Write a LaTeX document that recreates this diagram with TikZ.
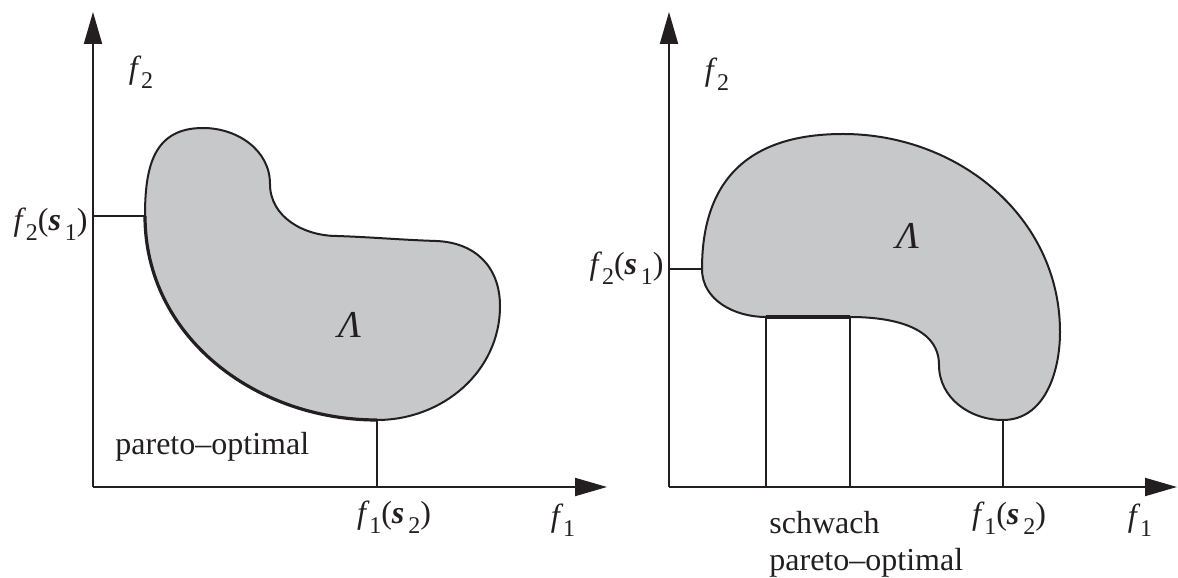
\documentclass[tikz,border=0pt]{standalone}
\usepackage{fontspec}
\setmainfont{Liberation Serif}
\usepackage{tikz}
\usetikzlibrary{positioning, arrows.meta}
\definecolor{blobgray}{RGB}{199,200,202}
\definecolor{ink}{RGB}{35,31,32}
\newcommand{\lowsub}[1]{\raisebox{-0.3em}{\fontsize{12}{13}\selectfont #1}}
\newcommand{\fax}[1]{\textit{f}\kern-0.01em\lowsub{#1}}
\newcommand{\fval}[2]{\fax{#1}(\textbf{\textit{s}}\kern0.12em\lowsub{#2})}
\tikzset{
  axis/.style={draw=ink, line width=1pt, -{Triangle[length=16pt, width=9pt]}},
  helper/.style={draw=ink, line width=1pt},
  rim/.style={draw=ink, line width=1pt},
  front/.style={draw=ink, line width=1.6pt},
  lbl/.style={font=\fontsize{16}{18.5}\selectfont, text=ink, inner sep=0pt},
  setname/.style={font=\fontsize{19}{21}\selectfont, text=ink, inner sep=0pt},
}
\begin{document}
\begin{tikzpicture}[x=0.5pt, y=0.5pt]
\useasboundingbox (0,0) rectangle (1178,578);
% left diagram
\coordinate (Lo) at (93,91);
\coordinate (Ly) at (93,566);
\coordinate (Lx) at (607,91);
\coordinate (Lj1) at (145,362);
\coordinate (Ltop) at (203,450);
\coordinate (Lnotch) at (270,394);
\coordinate (Lwaist) at (337,342);
\coordinate (Lshoulder) at (436,337);
\coordinate (Lright) at (500,272);
\coordinate (Lj2) at (377,158);
\coordinate (Lf2) at (Lo |- Lj1);
\coordinate (Lf1) at (Lj2 |- Lo);
\fill[blobgray] (Lj1) to[out=90, in=180, looseness=1.2] (Ltop) to[out=0, in=90] (Lnotch)
  to[out=-90, in=180] (Lwaist) to[out=-2, in=178] (Lshoulder) to[out=-2, in=90, looseness=1.1] (Lright)
  to[out=-90, in=0] (Lj2) to[out=180, in=-90] (Lj1) -- cycle;
\draw[rim] (Lj1) to[out=90, in=180, looseness=1.2] (Ltop) to[out=0, in=90] (Lnotch)
  to[out=-90, in=180] (Lwaist) to[out=-2, in=178] (Lshoulder) to[out=-2, in=90, looseness=1.1] (Lright)
  to[out=-90, in=0] (Lj2);
\draw[front] (Lj2) to[out=180, in=-90] (Lj1);
\draw[helper] (Lf2) -- (Lj1);
\draw[helper] (Lj2) -- (Lf1);
\draw[axis] (Lo) -- (Ly);
\draw[axis] (Lo) -- (Lx);
\node[lbl] (Lf2lbl) at (141,506) {\fax{2}};
\node[lbl, anchor=east] (Lf2val) at (88,354) {\fval{2}{1}};
\node[lbl] (Lf1val) at (394,61) {\fval{1}{2}};
\node[lbl] (Lf1lbl) at (563,58) {\fax{1}};
\node[setname] (Lset) at (350,253) {\textit{Λ}};
\node[lbl, anchor=base west] (Lpareto) at (115,123) {pareto–optimal};
% right diagram
\coordinate (Ro) at (669,91);
\coordinate (Ry) at (669,566);
\coordinate (Rx) at (1177,91);
\coordinate (Rj1) at (702,309);
\coordinate (Rtop) at (843,444);
\coordinate (Rright) at (1060,246);
\coordinate (Rj2) at (1003,158);
\coordinate (Rnotch) at (939,213);
\coordinate (Rb2) at (850,261);
\coordinate (Rb1) at (766,261);
\coordinate (Rf2) at (Ro |- Rj1);
\fill[blobgray] (Rj1) to[out=90, in=180, looseness=1.2] (Rtop) to[out=0, in=90] (Rright)
  to[out=-90, in=0] (Rj2) to[out=180, in=-90] (Rnotch) to[out=90, in=0] (Rb2)
  -- (Rb1) to[out=180, in=-90] (Rj1) -- cycle;
\draw[rim] (Rb1) to[out=180, in=-90] (Rj1) to[out=90, in=180, looseness=1.2] (Rtop)
  to[out=0, in=90] (Rright) to[out=-90, in=0] (Rj2) to[out=180, in=-90] (Rnotch)
  to[out=90, in=0] (Rb2);
\draw[front] (Rb2) -- (Rb1);
\draw[helper] (Rf2) -- (Rj1);
\draw[helper] (Rb1) -- (Rb1 |- Ro);
\draw[helper] (Rb2) -- (Rb2 |- Ro);
\draw[helper] (Rj2) -- (Rj2 |- Ro);
\draw[axis] (Ro) -- (Ry);
\draw[axis] (Ro) -- (Rx);
\node[lbl] (Rf2lbl) at (717,504) {\fax{2}};
\node[lbl, anchor=east] (Rf2val) at (664,310) {\fval{2}{1}};
\node[lbl] (Rf1val) at (1009,60) {\fval{1}{2}};
\node[lbl] (Rf1lbl) at (1140,58) {\fax{1}};
\node[setname] (Rset) at (908,342) {\textit{Λ}};
\node[lbl, anchor=north west, align=left] (Rweak) at (769,67) {schwach\\pareto–optimal};
\end{tikzpicture}
\end{document}
